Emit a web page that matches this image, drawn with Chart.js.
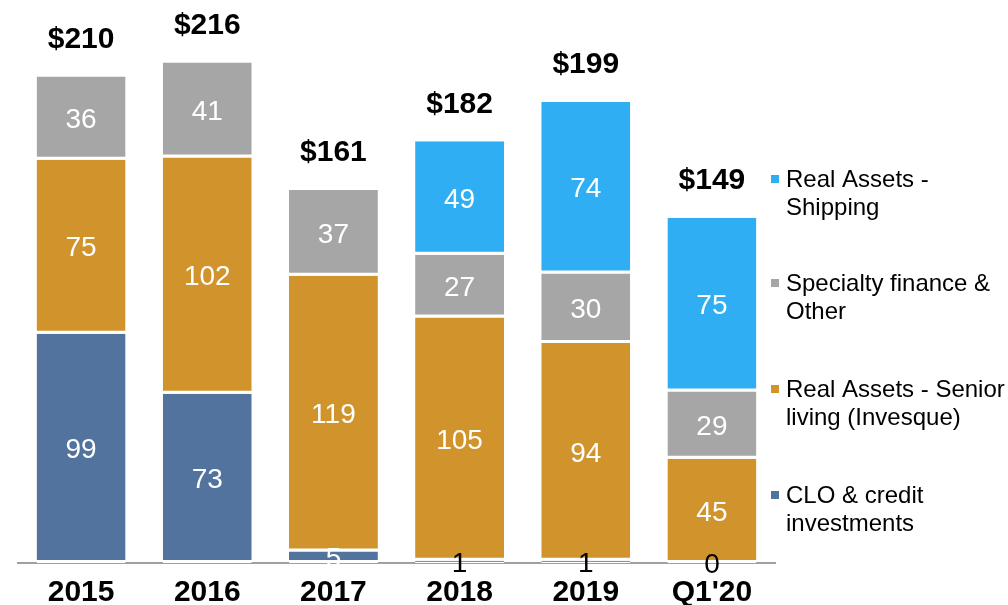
<!DOCTYPE html>
<html>
<head>
<meta charset="utf-8">
<script src="https://cdn.jsdelivr.net/npm/chart.js@4"></script>
<style>
html,body{margin:0;padding:0;background:#fff;}
#wrap{width:1008px;height:605px;position:relative;}
</style>
</head>
<body>
<div id="wrap"><canvas id="c" width="1008" height="605"></canvas></div>
<script>
const categories = ["2015", "2016", "2017", "2018", "2019", "Q1'20"];
const cloCredit = [99, 73, 5, 1, 1, 0];
const seniorLiving = [75, 102, 119, 105, 94, 45];
const specialtyOther = [36, 41, 37, 27, 30, 29];
const shipping = [0, 0, 0, 49, 74, 75];
const seriesNames = ["CLO & credit investments", "Real Assets - Senior living (Invesque)", "Specialty finance & Other", "Real Assets - Shipping"];
const legendLines = [["Real Assets -", "Shipping"], ["Specialty finance &", "Other"], ["Real Assets - Senior", "living (Invesque)"], ["CLO & credit", "investments"]];
const colors = ["#52739e", "#d1932c", "#a6a6a6", "#30aef3"];

const FONT = '"Liberation Sans", Arial, sans-serif';

const labelsPlugin = {
  id: 'labelsPlugin',
  afterDatasetsDraw(chart) {
    const ctx = chart.ctx;
    ctx.save();
    ctx.textAlign = 'center';
    ctx.textBaseline = 'middle';
    ctx.font = '28px ' + FONT;
    chart.data.datasets.forEach((ds, di) => {
      const meta = chart.getDatasetMeta(di);
      meta.data.forEach((el, i) => {
        const v = ds.data[i];
        if (di !== 0 && v === 0) return;
        const cy = (el.y + el.base) / 2;
        ctx.fillStyle = v >= 5 ? '#ffffff' : '#000000';
        ctx.fillText(String(v), el.x, cy + 2);
      });
    });
    const ys = chart.scales.y;
    ctx.font = 'bold 30px ' + FONT;
    ctx.fillStyle = '#000';
    categories.forEach((c, i) => {
      const tot = cloCredit[i] + seniorLiving[i] + specialtyOther[i] + shipping[i];
      const x = chart.getDatasetMeta(0).data[i].x;
      ctx.fillText('$' + tot, x, ys.getPixelForValue(tot) - 37);
    });
    ctx.restore();
  },
  afterDraw(chart) {
    const ctx = chart.ctx;
    ctx.save();
    ctx.font = '24px ' + FONT;
    ctx.textAlign = 'left';
    ctx.textBaseline = 'middle';
    const starts = [180, 284, 390, 496];
    const order = [3, 2, 1, 0];
    order.forEach((si, k) => {
      const y0 = starts[k];
      ctx.fillStyle = colors[si];
      ctx.fillRect(771, y0 - 5, 8, 8);
      ctx.fillStyle = '#000';
      legendLines[k].forEach((t, j) => ctx.fillText(t, 786, y0 + j * 28));
    });
    ctx.restore();
  }
};

const datasets = [cloCredit, seniorLiving, specialtyOther, shipping].map((d, i) => ({
  label: seriesNames[i],
  data: d,
  backgroundColor: colors[i],
  borderColor: '#ffffff',
  borderWidth: {top: 0, left: 0, right: 0, bottom: 3},
  borderSkipped: false,
  categoryPercentage: 1,
  barPercentage: 0.705
}));

new Chart(document.getElementById('c'), {
  type: 'bar',
  data: { labels: categories, datasets },
  options: {
    responsive: false,
    animation: false,
    events: [],
    layout: { padding: { left: 18, right: 233, top: 0, bottom: -18 } },
    plugins: { legend: { display: false }, tooltip: { enabled: false } },
    scales: {
      x: {
        stacked: true,
        grid: { display: false, drawTicks: false },
        border: { display: true, color: '#a0a0a0', width: 2 },
        ticks: { color: '#000', font: { family: FONT, size: 30, weight: 'bold' }, padding: 12 }
      },
      y: {
        stacked: true,
        display: false,
        min: 0,
        max: 243
      }
    }
  },
  plugins: [labelsPlugin]
});
</script>
</body>
</html>
